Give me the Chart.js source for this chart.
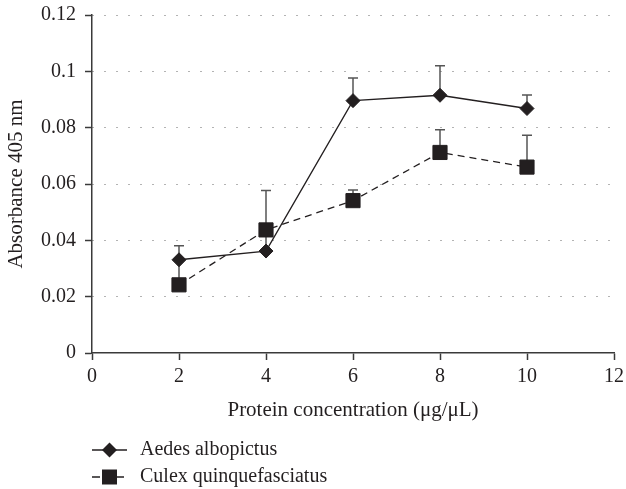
<!DOCTYPE html>
<html>
<head>
<meta charset="utf-8">
<script src="https://cdn.jsdelivr.net/npm/chart.js@4/dist/chart.umd.min.js"></script>
<style>
  html, body { margin: 0; padding: 0; background: #fff; }
  #c { display: block; }
</style>
</head>
<body>
<canvas id="c" width="626" height="489"></canvas>
<script>
// Absorbance at 405 nm against protein concentration, mean and upper error
const concentrations = [2, 4, 6, 8, 10];
const aedesMean = [0.0331, 0.0362, 0.0896, 0.0915, 0.0868];
const aedesErr  = [0.0050, 0.0060, 0.0080, 0.0105, 0.0048];
const culexMean = [0.0242, 0.0437, 0.0541, 0.0712, 0.0660];
const culexErr  = [0.0088, 0.0140, 0.0038, 0.0081, 0.0113];
const seriesNames = ['Aedes albopictus', 'Culex quinquefasciatus'];
const xTicks = [0, 2, 4, 6, 8, 10, 12];
const yTickLabels = ['0', '0.02', '0.04', '0.06', '0.08', '0.1', '0.12'];

const FONT = "'Liberation Serif', 'DejaVu Serif', serif";
const INK = '#231f20';
const AXIS = '#3a3a3a';
const TICK_SIZE = 20;
const TITLE_SIZE = 21;

const toPoints = (xs, ys) => xs.map((x, i) => ({ x: x, y: ys[i] }));

// Upward error bars with a short cap, drawn under the markers
const errorBars = {
  id: 'errorBars',
  beforeDatasetsDraw(chart) {
    const { ctx, scales: { x, y } } = chart;
    const sets = [[aedesMean, aedesErr], [culexMean, culexErr]];
    ctx.save();
    ctx.strokeStyle = '#555';
    ctx.lineWidth = 1.5;
    sets.forEach(([means, errs]) => {
      concentrations.forEach((c, i) => {
        if (!errs[i]) return;
        const px = x.getPixelForValue(c);
        const y0 = y.getPixelForValue(means[i]);
        const y1 = y.getPixelForValue(means[i] + errs[i]);
        ctx.beginPath();
        ctx.moveTo(px, y0);
        ctx.lineTo(px, y1);
        ctx.moveTo(px - 5, y1);
        ctx.lineTo(px + 5, y1);
        ctx.stroke();
      });
    });
    ctx.restore();
  }
};

// Stacked legend below the x axis title
const stackedLegend = {
  id: 'stackedLegend',
  afterDraw(chart) {
    const { ctx } = chart;
    const x0 = 92, x1 = 127, xm = (x0 + x1) / 2;
    const rows = [
      { name: seriesNames[0], y: 450, dash: [], marker: 'diamond' },
      { name: seriesNames[1], y: 477, dash: [8, 4], marker: 'square' }
    ];
    ctx.save();
    rows.forEach(r => {
      ctx.strokeStyle = INK;
      ctx.lineWidth = 1.3;
      ctx.setLineDash(r.dash);
      ctx.beginPath();
      ctx.moveTo(x0, r.y);
      ctx.lineTo(x1, r.y);
      ctx.stroke();
      ctx.setLineDash([]);
      ctx.fillStyle = INK;
      ctx.beginPath();
      if (r.marker === 'diamond') {
        ctx.moveTo(xm - 7.5, r.y);
        ctx.lineTo(xm, r.y - 7.5);
        ctx.lineTo(xm + 7.5, r.y);
        ctx.lineTo(xm, r.y + 7.5);
        ctx.closePath();
      } else {
        ctx.rect(xm - 7.5, r.y - 7.5, 15, 15);
      }
      ctx.fill();
      ctx.font = TICK_SIZE + 'px ' + FONT;
      ctx.textBaseline = 'middle';
      ctx.textAlign = 'left';
      ctx.fillText(r.name, 140, r.y);
    });
    ctx.restore();
  }
};

new Chart(document.getElementById('c'), {
  type: 'line',
  data: {
    datasets: [
      {
        label: seriesNames[0],
        data: toPoints(concentrations, aedesMean),
        borderColor: INK,
        borderWidth: 1.3,
        backgroundColor: INK,
        pointStyle: 'rectRot',
        pointRadius: 7,
        pointBorderWidth: 1,
        pointBorderColor: INK,
        pointBackgroundColor: INK,
        tension: 0
      },
      {
        label: seriesNames[1],
        data: toPoints(concentrations, culexMean),
        borderColor: INK,
        borderWidth: 1.3,
        borderDash: [7, 5],
        backgroundColor: INK,
        pointStyle: 'rect',
        pointRadius: 10,
        pointBorderWidth: 1,
        pointBorderColor: INK,
        pointBackgroundColor: INK,
        tension: 0
      }
    ]
  },
  options: {
    responsive: false,
    devicePixelRatio: 1,
    animation: false,
    layout: { padding: { top: 15, right: 12, bottom: 66, left: 0 } },
    plugins: { legend: { display: false }, tooltip: { enabled: false } },
    scales: {
      x: {
        type: 'linear',
        min: 0,
        max: 12,
        afterBuildTicks: s => { s.ticks = xTicks.map(v => ({ value: v })); },
        afterFit: s => { s.height = 70; s.paddingLeft = 0; s.paddingRight = 0; },
        grid: { drawOnChartArea: false, drawTicks: true, tickLength: 7, tickColor: AXIS, tickWidth: 1.5 },
        border: { color: AXIS, width: 1.5 },
        ticks: { color: INK, font: { family: FONT, size: TICK_SIZE }, padding: 5, maxRotation: 0 },
        title: {
          display: true,
          text: 'Protein concentration (μg/μL)',
          color: INK,
          font: { family: FONT, size: TITLE_SIZE },
          padding: { top: 0, bottom: 0 }
        }
      },
      y: {
        type: 'linear',
        min: 0,
        max: 0.12,
        afterFit: s => { s.width = 92; s.paddingTop = 0; s.paddingBottom = 0; },
        ticks: {
          stepSize: 0.02,
          color: INK,
          font: { family: FONT, size: TICK_SIZE },
          padding: 9,
          callback: v => yTickLabels[Math.round(v * 50)]
        },
        grid: {
          color: c => (c.tick && c.tick.value === 0 ? 'rgba(0,0,0,0)' : '#666'),
          lineWidth: 1,
          tickLength: 7,
          tickColor: AXIS,
          tickWidth: 1.5
        },
        border: { color: AXIS, width: 1.5, dash: [1, 11] },
        title: {
          display: true,
          text: 'Absorbance 405 nm',
          color: INK,
          font: { family: FONT, size: TITLE_SIZE },
          padding: { top: 4, bottom: 0 }
        }
      }
    }
  },
  plugins: [errorBars, stackedLegend]
});
</script>
</body>
</html>
